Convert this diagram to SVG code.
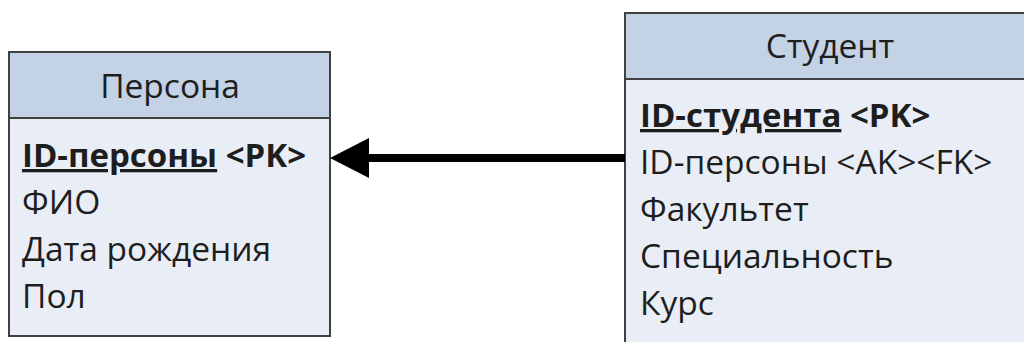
<svg xmlns="http://www.w3.org/2000/svg" width="1024" height="342" viewBox="0 0 1024 342">
<style>
.box{fill:#e9eef6;stroke:#404040;stroke-width:2}
.hdr{fill:#c4d2e5;stroke:#404040;stroke-width:2}
text{font-family:"Open Sans","Noto Sans",sans-serif;font-size:33.5px;fill:#1e1e1e}
.b{font-weight:bold;font-size:33px}
.t{text-anchor:middle}
</style>
<rect width="1024" height="342" fill="#ffffff"/>
<g id="persona">
<rect class="box" x="9" y="52" width="321" height="284"/>
<rect class="hdr" x="9" y="52" width="321" height="66"/>
<text class="t" x="170" y="98">Персона</text>
<text class="b" x="22" y="167"><tspan text-decoration="underline">ID-персоны</tspan> &lt;PK&gt;</text>
<text x="22" y="214">ФИО</text>
<text x="22" y="261">Дата рождения</text>
<text x="22" y="308">Пол</text>
</g>
<g id="student">
<rect class="box" x="625" y="13" width="420" height="345"/>
<rect class="hdr" x="625" y="13" width="420" height="66"/>
<text class="t" x="830" y="58">Студент</text>
<text class="b" x="640" y="127"><tspan text-decoration="underline">ID-студента</tspan> &lt;PK&gt;</text>
<text x="640" y="174">ID-персоны &lt;AK&gt;&lt;FK&gt;</text>
<text x="640" y="221">Факультет</text>
<text x="640" y="268">Специальность</text>
<text x="640" y="315">Курс</text>
</g>
<g id="connectors">
<line x1="625" y1="158" x2="365" y2="158" stroke="#000" stroke-width="8"/>
<polygon points="330,158 369,138 369,178" fill="#000"/>
</g>
</svg>
